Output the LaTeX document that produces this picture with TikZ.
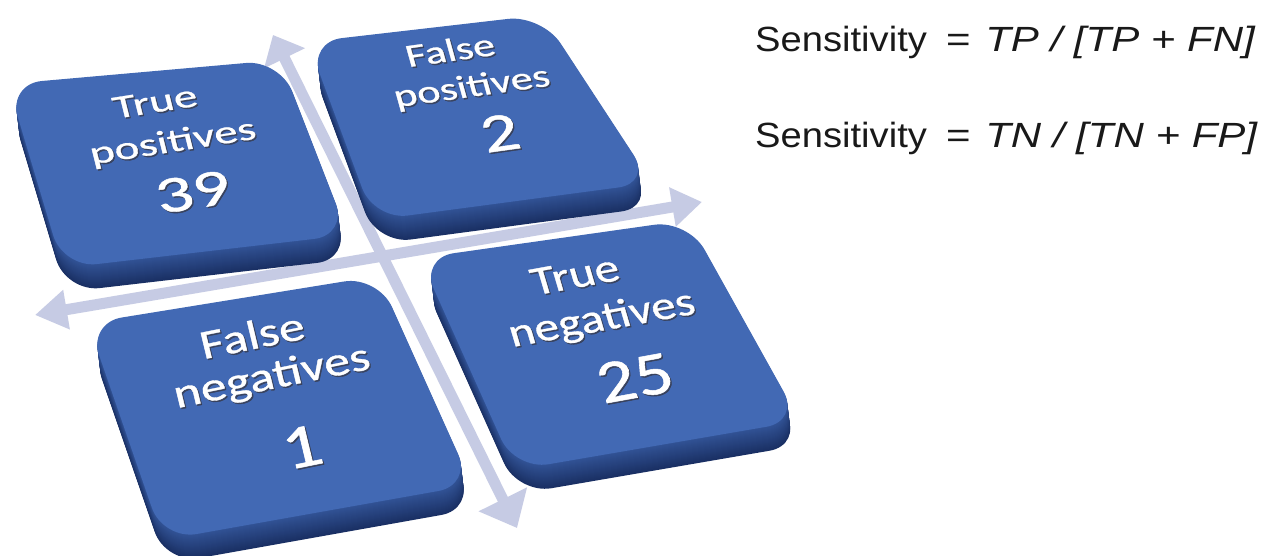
\documentclass[tikz,border=0pt]{standalone}
\usepackage{fontspec}
\newfontfamily\carlito[FakeBold=0.8]{Carlito}
\newfontfamily\arialf{Liberation Sans}
\usetikzlibrary{arrows.meta}
\definecolor{topface}{RGB}{66,105,180}
\definecolor{sidelight}{RGB}{50,83,150}
\definecolor{sidedark}{RGB}{26,48,100}
\definecolor{axiscol}{RGB}{198,203,228}
\definecolor{shadowcol}{RGB}{55,55,65}

\newcommand\tileshape[8]{%
  \foreach \k in {24,23,...,1}{%
    \pgfmathsetmacro\pp{100*\k/24}%
    \fill[sidedark!\pp!sidelight, rounded corners=34pt]
      (#1+0.12*\k,#2-\k) -- (#3+0.12*\k,#4-\k) -- (#5+0.12*\k,#6-\k) -- (#7+0.12*\k,#8-\k) -- cycle;
  }%
  \fill[topface, rounded corners=34pt] (#1,#2) -- (#3,#4) -- (#5,#6) -- (#7,#8) -- cycle;
}

\newcommand\tiletext[6]{%
  \begin{scope}[shift={(#2+1.4,#3-1.4)}]
    \node[#4, inner sep=0, text=shadowcol, opacity=0.7, font=\carlito\fontsize{#5}{#5}\selectfont] at (0,0) {#6};
  \end{scope}
  \begin{scope}[shift={(#2,#3)}]
    \node[#4, inner sep=0, text=white, font=\carlito\fontsize{#5}{#5}\selectfont] (#1) at (0,0) {#6};
  \end{scope}}

\tikzset{
  axis/.style={line width=11pt, draw=axiscol, fill=axiscol},
  tpT/.style={cm={0.988,0.156,-0.170,0.68,(0,0)}},
  fpT/.style={cm={0.990,0.139,-0.200,0.72,(0,0)}},
  fnT/.style={cm={0.980,0.199,-0.185,0.77,(0,0)}},
  tnT/.style={cm={0.984,0.179,-0.237,0.80,(0,0)}},
  formula/.style={inner sep=0, font=\arialf\fontsize{35}{35}\selectfont, text=black!90}
}

\begin{document}
\begin{tikzpicture}[x=1pt,y=1pt]
\useasboundingbox (0,0) rectangle (1272,556);
\fill[white] (0,0) rectangle (1272,556);

% axes
\coordinate (vtop) at (273,521);
\coordinate (vbot) at (517,28);
\coordinate (hleft) at (35,241);
\coordinate (hright) at (702,354);
\draw[axis, {Triangle[width=44pt,length=26pt]}-{Triangle[width=52pt,length=32pt]}] (vtop) -- (vbot);
\draw[axis, {Triangle[width=38pt,length=32pt]}-{Triangle[width=38pt,length=30pt]}] (hleft) -- (hright);

% tiles (TL, TR, BR, BL)
\tileshape{8}{472}{280}{496}{348}{321}{63}{288}
\tileshape{308}{514}{542}{541}{652}{373}{374}{336}
\tileshape{88}{233}{378}{280}{472}{71}{163}{16}
\tileshape{420}{298}{688}{336}{800}{135}{515}{86}

% tile texts
\tiletext{tp1}{155}{454}{tpT}{47}{True}
\tiletext{tp2}{173}{413}{tpT}{47}{positives}
\tiletext{tp3}{193}{364}{tpT}{74}{39}

\tiletext{fp1}{450}{506}{fpT}{44}{False}
\tiletext{fp2}{472}{468}{fpT}{44}{positives}
\tiletext{fp3}{500}{423}{fpT}{74}{2}

\tiletext{fn1}{252}{221}{fnT}{52}{False}
\tiletext{fn2}{272}{178}{fnT}{52}{negatives}
\tiletext{fn3}{302}{109}{fnT}{78}{1}

\tiletext{tn1}{575}{281}{tnT}{49}{True}
\tiletext{tn2}{602}{236}{tnT}{49}{negatives}
\tiletext{tn3}{635}{178}{tnT}{74}{25}

% formulas
\begin{scope}[shift={(755,504)}]
  \node[formula, anchor=base west, xscale=1.09] (s1) at (0,0) {Sensitivity};
\end{scope}
\begin{scope}[shift={(958.5,504)}]
  \node[formula, anchor=base, xscale=1.2] (e1) at (0,0) {=};
\end{scope}
\begin{scope}[shift={(985,504)}]
  \node[formula, anchor=base west, xscale=1.2] (r1) at (0,0) {\itshape TP / [TP + FN]};
\end{scope}

\begin{scope}[shift={(755,408)}]
  \node[formula, anchor=base west, xscale=1.09] (s2) at (0,0) {Sensitivity};
\end{scope}
\begin{scope}[shift={(958.5,408)}]
  \node[formula, anchor=base, xscale=1.2] (e2) at (0,0) {=};
\end{scope}
\begin{scope}[shift={(985,408)}]
  \node[formula, anchor=base west, xscale=1.2] (r2) at (0,0) {\itshape TN / [TN + FP]};
\end{scope}
\end{tikzpicture}
\end{document}
